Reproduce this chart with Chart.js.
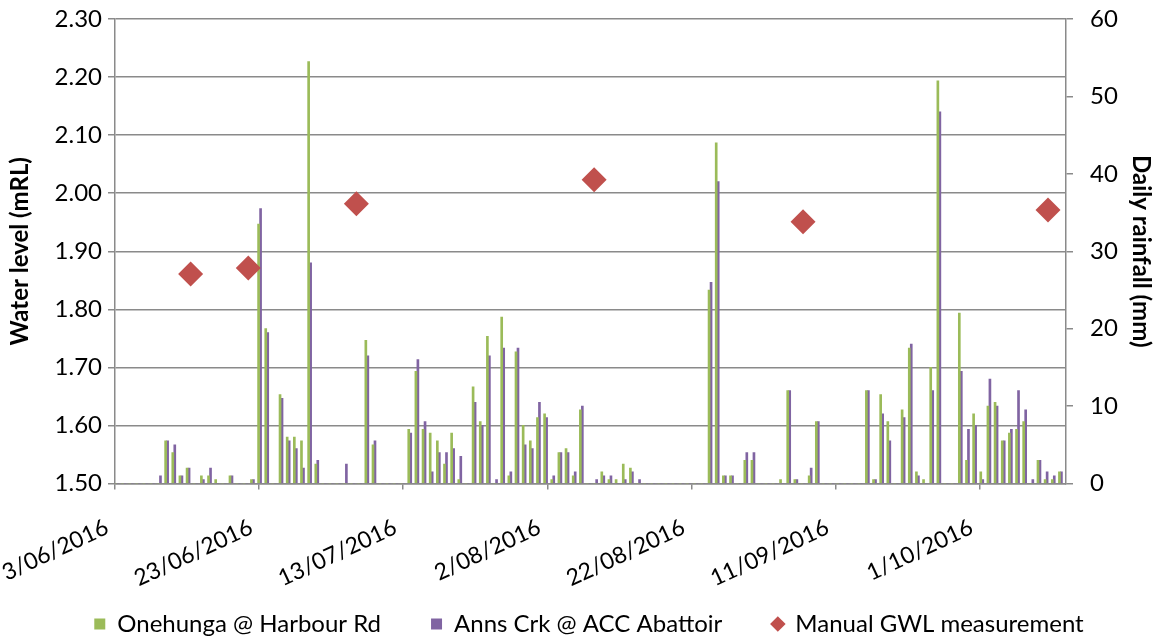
<!DOCTYPE html>
<html>
<head>
<meta charset="utf-8">
<title>Water level and daily rainfall</title>
<script src="https://cdn.jsdelivr.net/npm/chart.js@4.4.1/dist/chart.umd.min.js"></script>
<style>
  html, body { margin: 0; padding: 0; background: #ffffff; }
  canvas { display: block; }
</style>
</head>
<body>
<canvas id="chart" width="1158" height="642"></canvas>
<script>
// Daily rainfall series start on this date (index 0)
const startDate = '3/06/2016';

// Date labels shown along the horizontal axis
const dateTicks = ['3/06/2016', '23/06/2016', '13/07/2016', '2/08/2016', '22/08/2016', '11/09/2016', '1/10/2016'];

// Daily rainfall (mm), one value per day from startDate
const onehungaRain = [
  0, 0, 0, 0, 0, 0, 0, 5.5, 4, 1,
  2, 0, 1, 1, 0.5, 0, 1, 0, 0, 0.5,
  33.5, 20, 0, 11.5, 6, 6, 5.5, 54.5, 2.5, 0,
  0, 0, 0, 0, 0, 18.5, 5, 0, 0, 0,
  0, 7, 14.5, 7, 6.5, 5.5, 2.5, 6.5, 0.5, 0,
  12.5, 8, 19, 0, 21.5, 1, 17, 7.5, 5.5, 8.5,
  9, 0.5, 4, 4.5, 1, 9.5, 0, 0, 1.5, 0.5,
  0.5, 2.5, 2, 0, 0, 0, 0, 0, 0, 0,
  0, 0, 0, 25, 44, 1, 1, 0, 3, 3,
  0, 0, 0, 0.5, 12, 0.5, 0, 1, 8, 0,
  0, 0, 0, 0, 0, 12, 0.5, 11.5, 8, 0,
  9.5, 17.5, 1.5, 0.5, 15, 52, 0, 0, 22, 3,
  9, 1.5, 10, 10.5, 5.5, 6.5, 7, 8, 0, 3,
  0.5, 0.5, 1.5
];

const annsCrkRain = [
  0, 0, 0, 0, 0, 0, 1, 5.5, 5, 1,
  2, 0, 0.5, 2, 0, 0, 1, 0, 0, 0.5,
  35.5, 19.5, 0, 11, 5.5, 4.5, 2, 28.5, 3, 0,
  0, 0, 2.5, 0, 0, 16.5, 5.5, 0, 0, 0,
  0, 6.5, 16, 8, 1.5, 4, 4, 4.5, 3.5, 0,
  10.5, 7.5, 16.5, 0.5, 17.5, 1.5, 17.5, 5, 4.5, 10.5,
  8.5, 1, 4, 4, 1.5, 10, 0, 0.5, 1, 1,
  0, 0.5, 1.5, 0.5, 0, 0, 0, 0, 0, 0,
  0, 0, 0, 26, 39, 1, 1, 0, 4, 4,
  0, 0, 0, 0, 12, 0.5, 0, 2, 8, 0,
  0, 0, 0, 0, 0, 12, 0.5, 9, 5.5, 0,
  8.5, 18, 1, 0, 12, 48, 0, 0, 14.5, 7,
  7.5, 0.5, 13.5, 10, 5.5, 7, 12, 9.5, 0.5, 3,
  1.5, 1, 1.5
];

// Manual groundwater level dips (mRL)
const gwlDates = ['13/06/2016', '21/06/2016', '6/07/2016', '8/08/2016', '6/09/2016', '10/10/2016'];
const gwlLevels = [1.861, 1.871, 1.982, 2.023, 1.951, 1.971];

// Series names and legend markers
const seriesNames = ['Onehunga @ Harbour Rd', 'Anns Crk @ ACC Abattoir', 'Manual GWL measurement'];
const seriesColors = ['#9BBB59', '#8064A2', '#C0504D'];
const legendMarkers = ['rect', 'rect', 'rectRot'];

// --- date helpers -------------------------------------------------------
function dayNumber(str) {
  const [d, m, y] = str.split('/').map(Number);
  return Date.UTC(y, m - 1, d) / 86400000;
}
const day0 = dayNumber(startDate);
const dayOffset = str => dayNumber(str) - day0;
const tickDays = dateTicks.map(dayOffset);

// Each day occupies one slot; marks sit in the middle of their slot
const rainPoints = values => values.map((v, i) => ({ x: i + 0.5, y: v }));
const gwlPoints = gwlDates.map((d, i) => ({ x: dayOffset(d) + 0.5, y: gwlLevels[i] }));

// Fixed plot frame: the axes do not reserve extra room for label overhang
const noOverhang = scale => {
  scale.paddingLeft = 0;
  scale.paddingRight = 0;
  scale.paddingTop = 0;
  scale.paddingBottom = 0;
};

// Nudge the legend row slightly to the right of centre
const legendNudge = {
  id: 'legendNudge',
  afterLayout(c) {
    if (c.legend) {
      c.legend.left += 10;
      c.legend.right += 10;
    }
  }
};

// --- styling -------------------------------------------------------------
const FONT = 'Lato, "Open Sans", "DejaVu Sans", sans-serif';
const AXIS_GREY = '#8a8a8a';
Chart.defaults.font.family = FONT;
Chart.defaults.font.size = 24;
Chart.defaults.color = '#000000';

const chart = new Chart(document.getElementById('chart'), {
  type: 'bar',
  plugins: [legendNudge],
  data: {
    datasets: [
      {
        label: seriesNames[0],
        data: rainPoints(onehungaRain),
        backgroundColor: seriesColors[0],
        borderWidth: 0,
        barThickness: 2,
        xAxisID: 'xDays',
        yAxisID: 'yRain',
        order: 1
      },
      {
        label: seriesNames[1],
        data: rainPoints(annsCrkRain),
        backgroundColor: seriesColors[1],
        borderWidth: 0,
        barThickness: 2,
        xAxisID: 'xDays',
        yAxisID: 'yRain',
        order: 1
      },
      {
        type: 'line',
        label: seriesNames[2],
        data: gwlPoints,
        showLine: false,
        pointStyle: 'rectRot',
        pointRadius: 12.5,
        pointBorderWidth: 0,
        backgroundColor: seriesColors[2],
        borderColor: seriesColors[2],
        borderWidth: 0,
        xAxisID: 'x',
        yAxisID: 'yLevel',
        clip: false,
        order: 0
      }
    ]
  },
  options: {
    responsive: false,
    devicePixelRatio: 1,
    animation: false,
    events: [],
    layout: { padding: { top: 19, right: 0, bottom: -4, left: 0 } },
    plugins: {
      tooltip: { enabled: false },
      legend: {
        position: 'bottom',
        labels: {
          usePointStyle: true,
          boxWidth: 11,
          boxHeight: 11,
          padding: 50,
          color: '#000000',
          font: { size: 24 },
          sort: (a, b) => a.datasetIndex - b.datasetIndex,
          generateLabels(c) {
            const items = Chart.defaults.plugins.legend.labels.generateLabels(c);
            return items.map(it => Object.assign(it, {
              pointStyle: legendMarkers[it.datasetIndex],
              fillStyle: seriesColors[it.datasetIndex],
              strokeStyle: seriesColors[it.datasetIndex],
              lineWidth: 0
            }));
          }
        }
      }
    },
    scales: {
      x: {
        type: 'linear',
        position: 'bottom',
        offset: false,
        min: 0,
        max: 132,
        afterBuildTicks: scale => { scale.ticks = tickDays.map(v => ({ value: v })); },
        afterFit: scale => {
          scale.height = 78.5;
          noOverhang(scale);
          // rotated date labels may run past the axis box
          scale._computeLabelArea = () => undefined;
        },
        ticks: {
          autoSkip: false,
          minRotation: 25,
          maxRotation: 25,
          padding: 24,
          labelOffset: -8,
          color: '#000000',
          font: { size: 23 },
          callback: v => { const i = tickDays.indexOf(v); return i >= 0 ? dateTicks[i] : ''; }
        },
        grid: { offset: false, drawOnChartArea: false, color: AXIS_GREY, lineWidth: 1.5, tickLength: 6 },
        border: { color: AXIS_GREY, width: 1.5 }
      },
      xDays: {
        type: 'linear',
        display: false,
        offset: false,
        grid: { offset: false },
        min: 0,
        max: onehungaRain.length,
        afterFit: noOverhang
      },
      yLevel: {
        type: 'linear',
        position: 'left',
        min: 1.5,
        max: 2.3,
        afterFit: scale => { scale.width = 115; noOverhang(scale); },
        ticks: {
          stepSize: 0.1,
          padding: 6,
          color: '#000000',
          callback: v => v.toFixed(2)
        },
        grid: { color: AXIS_GREY, lineWidth: 1.5, tickLength: 7 },
        border: { color: AXIS_GREY, width: 1.5 },
        title: {
          display: true,
          text: 'Water level (mRL)',
          color: '#000000',
          font: { size: 24, weight: 'bold' },
          padding: { top: 6, bottom: 0 }
        }
      },
      yRain: {
        type: 'linear',
        position: 'right',
        min: 0,
        max: 60,
        afterFit: scale => { scale.width = 92; noOverhang(scale); },
        ticks: { stepSize: 10, padding: 17, color: '#000000' },
        grid: { drawOnChartArea: false, color: AXIS_GREY, lineWidth: 1.5, tickLength: 7 },
        border: { color: AXIS_GREY, width: 1.5 },
        title: {
          display: true,
          text: 'Daily rainfall (mm)',
          color: '#000000',
          font: { size: 24, weight: 'bold' },
          padding: { top: 3, bottom: 0 }
        }
      }
    }
  }
});
</script>
</body>
</html>
